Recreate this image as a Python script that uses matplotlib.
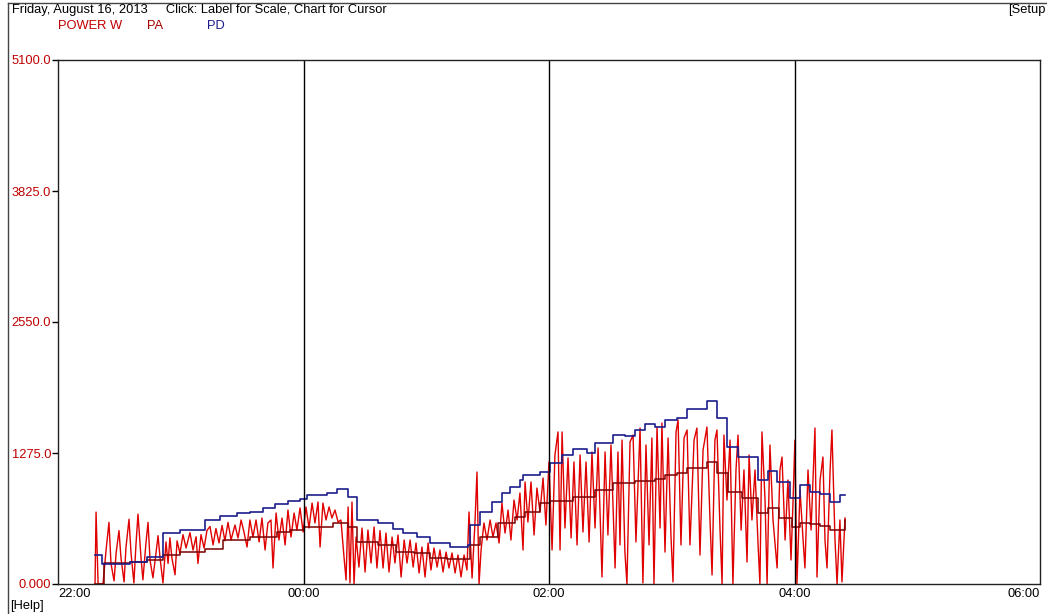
import matplotlib
matplotlib.use("Agg")
import matplotlib.pyplot as plt
from matplotlib.lines import Line2D

plt.rcParams['font.family'] = ['Liberation Sans', 'DejaVu Sans']

# minutes after 22:00, watts
pd_min = [18.1, 21.5, 35.2, 43.5, 51.3, 59.6, 71.9, 79.2, 87.5, 93.9, 100.2, 106.1, 112.4,
          118.3, 121.7, 131.5, 136.4, 141.8, 146.2, 156.4, 163.7, 168.6, 175.5, 181.8,
          191.6, 200.4, 201.4, 206.3, 212.1, 217.0, 220.9, 225.8, 227.3, 235.6, 240.5,
          246.4, 251.7, 258.6, 262.5, 271.3, 277.2, 282.0, 286.9, 291.8, 296.7, 302.6,
          307.5, 317.2, 322.1, 327.0, 332.4, 342.2, 347.1, 351.5, 357.8, 362.7, 367.6,
          372.5, 377.4, 382.2, 384.7]
pd_watts = [282, 195, 214, 263, 496, 526, 623, 662, 691, 701, 740, 779, 808,
            827, 866, 886, 925, 847, 623, 594, 535, 496, 457, 399,
            360, 380, 574, 701, 798, 886, 944, 1012, 1061, 1090, 1178,
            1256, 1314, 1275, 1372, 1450, 1440, 1499, 1557, 1528, 1596, 1616,
            1703, 1781, 1616, 1333, 1236, 1012, 1100, 993, 837, 964, 895,
            876, 798, 866, 866]

pa_min = [18.1, 22.5, 35.2, 43.5, 51.3, 59.6, 71.9, 80.7, 93.9, 107.1, 113.4, 120.2,
          134.4, 141.8, 146.2, 156.4, 165.2, 174.0, 181.8, 190.2, 200.4, 201.4, 206.3,
          215.1, 223.5, 228.3, 235.6, 240.5, 251.7, 262.5, 271.3, 282.0, 291.8, 296.7,
          302.6, 307.5, 317.2, 322.1, 327.5, 334.3, 342.2, 347.1, 352.5, 358.8, 362.7,
          367.6, 372.5, 377.4, 383.2, 384.7]
pa_watts = [0, 204, 214, 233, 282, 311, 340, 428, 457, 506, 525, 555,
            594, 555, 409, 380, 311, 302, 253, 243, 243, 380, 457,
            594, 652, 701, 788, 808, 847, 915, 983, 1003, 1022, 1061,
            1080, 1129, 1188, 1080, 895, 837, 690, 740, 642, 555, 594,
            584, 565, 526, 526, 623]

pw_min = [18.1, 18.6, 19.6, 22.0, 23.5, 24.9, 25.9, 27.4, 28.4, 29.8, 30.8, 32.3, 33.2,
          34.7, 35.7, 37.1, 38.1, 39.1, 40.6, 41.5, 43.0, 44.0, 45.0, 46.4, 47.9, 48.9,
          49.9, 51.3,
          52.8, 53.8, 54.7, 55.7, 57.2, 58.2, 59.6, 61.1, 62.6, 64.5, 66.0, 67.5, 68.4,
          69.9, 71.4, 72.8, 74.3, 75.8, 77.2, 78.7, 80.2, 81.6, 83.1, 84.6, 86.5,
          88.0, 89.5, 90.9, 92.4, 93.8, 95.3, 96.8, 98.3, 99.7, 101.2, 102.6, 104.1,
          105.1, 106.6, 108.0, 109.5, 111.0, 112.4, 113.9, 115.4, 116.8, 118.3, 119.8,
          121.2, 122.7, 124.2, 125.6, 127.1, 128.1, 129.5, 131.0, 132.5, 133.9, 135.4,
          136.9, 138.3, 139.8, 140.8, 141.8, 142.7, 143.7, 144.7, 145.7, 147.1, 148.6,
          150.1, 151.5, 153.0, 154.5, 155.9, 157.4, 158.9,
          160.3, 161.8, 163.3, 164.7, 166.2, 167.7, 169.2, 170.6, 172.1, 173.6, 175.0,
          176.5, 177.9, 179.4, 180.9, 182.3, 183.8, 185.3, 186.7, 188.2, 189.7, 191.1,
          192.6, 194.1, 195.5, 197.0, 198.5, 199.9, 200.9, 202.4, 203.8, 204.8, 205.8,
          206.8, 208.2, 209.7, 211.2, 212.6, 214.1, 215.6, 217.0, 218.5, 220.0, 221.4,
          222.9, 224.4, 225.8, 227.3, 228.3, 229.7,
          231.2, 232.7, 234.1, 235.6, 237.1, 238.5, 240.0, 241.5, 242.9, 244.4, 245.4,
          246.4, 247.8, 249.3, 250.8, 252.2, 253.7, 255.2, 256.6, 258.1, 259.6, 261.0,
          262.5, 264.0, 265.9, 267.4, 268.8, 270.3, 272.3, 273.7, 274.7, 275.7, 277.1,
          278.1, 279.6, 281.1, 282.5, 284.5, 285.9, 287.4, 288.9, 290.3, 291.3, 292.8,
          294.3, 295.2, 296.7, 298.2, 299.6, 300.6, 302.1, 303.1, 304.5, 306.0,
          307.5, 308.9, 310.9, 312.3, 313.8, 315.3, 317.2, 318.7, 319.7, 321.1, 322.1,
          323.6, 324.6, 325.5, 327.0, 328.5, 329.9, 331.4, 332.4, 333.9, 335.3, 336.8,
          337.8, 339.2, 340.7, 342.2, 343.1, 344.1, 345.6, 346.6, 348.0, 349.5, 351.5,
          352.9, 353.9, 355.4, 356.8, 358.3, 359.3, 360.2, 361.2, 362.7, 364.2, 365.1,
          366.6, 368.1, 370.0, 371.0, 372.5, 373.9, 374.9, 375.9, 377.4, 378.3, 379.8,
          380.8, 382.2, 383.2, 384.7]
pw_watts = [0, 700, 0, 0, 330, 600, 200, 30, 300, 520, 250, 20, 350,
            630, 300, 10, 380, 680, 250, 40, 400, 600, 230, 60, 300, 470,
            250, 10,
            410, 200, 450, 250, 90, 420, 300, 480, 350, 500, 330, 460, 200,
            480, 350, 520, 560, 380, 540, 400, 570, 420, 600, 430, 574,
            448, 623, 506, 360, 623, 457, 623, 409, 642, 331, 594, 623,
            156, 691, 428, 642, 380, 720, 457, 691, 526, 740, 506,
            750, 545, 788, 594, 798, 360, 788, 623, 750, 642, 720,
            603, 623, 263, 39, 750, 10, 798, 0, 457, 165, 545,
            117, 526, 204, 555, 156, 520, 156,
            496, 117, 457, 204, 477, 68, 428, 204, 428, 165, 399,
            107, 360, 68, 399, 136, 350, 165, 331, 117, 311, 156,
            302, 107, 282, 68, 282, 136, 701, 58, 594, 1090, 0,
            331, 594, 428, 623, 457, 594, 399, 788, 496, 720, 428,
            817, 623, 886, 331, 993, 603,
            993, 477, 934, 701, 1032, 574, 1188, 331, 1256, 1480, 331,
            1480, 545, 1227, 448, 1188, 380, 1256, 506, 1188, 409, 1285,
            545, 1324, 68, 1285, 477, 1353, 156, 1285, 380, 1401, 311,
            0, 1382, 1450, 409, 1518, 10, 1353, 380, 1421, 0, 1528,
            545, 1567, 311, 1421, 477, 20, 1480, 1596, 380, 1421,
            1499, 380, 1401, 1518, 282, 1304, 1528, 623, 88, 1401, 1499,
            525, 0, 1450, 817, 1401, 0, 1110, 1450, 525, 1110, 214,
            1256, 623, 1110, 380, 0, 1480, 817, 0, 1353, 623, 156,
            1110, 1236, 428, 1012, 234, 817, 1401, 0, 915, 428, 156,
            1110, 525, 1518, 68, 1012, 1236, 428, 156, 1110, 1499, 428,
            0, 623, 20, 642]

x_ticks = [0, 120, 240, 360, 480]
x_labels = ['22:00', '00:00', '02:00', '04:00', '06:00']
y_ticks = [0, 1275, 2550, 3825, 5100]
y_labels = ['0.000', '1275.0', '2550.0', '3825.0', '5100.0']
grid_min = [120, 240, 360]

FS = 9.3
W, H = 1047, 614
fig = plt.figure(figsize=(W / 100, H / 100), dpi=100)
ax = fig.add_axes([58 / W, 30 / H, 982 / W, 524 / H])

ax.plot(pw_min, pw_watts, color='#e00000', lw=1.0)
ax.step(pa_min, pa_watts, where='post', color='#7a0000', lw=1.1)
ax.step(pd_min, pd_watts, where='post', color='#1c1c8c', lw=1.2)
for g in grid_min:
    ax.axvline(g, color='black', lw=1)

ax.set_xlim(0, 480)
ax.set_ylim(0, 5100)
ax.set_yticks(y_ticks)
ax.set_yticklabels(y_labels, color='#c00000', fontsize=FS)
ax.tick_params(axis='y', length=4, width=1, pad=1)
ax.set_xticks(x_ticks)
ax.set_xticklabels(x_labels, fontsize=FS)
ax.tick_params(axis='x', length=0, pad=3)
xl = ax.get_xticklabels()
xl[0].set_ha('left')
xl[-1].set_ha('right')
for s in ax.spines.values():
    s.set_linewidth(1)
    s.set_color('#222222')

# header and footer texts
fig.text(12 / W, 1 - 10 / H, 'Friday, August 16, 2013     Click: Label for Scale, Chart for Cursor',
         fontsize=FS, va='center')
fig.text(1008 / W, 1 - 10 / H, '[Setup', fontsize=FS, va='center')
fig.text(58 / W, 1 - 26 / H, 'POWER W', fontsize=FS, va='center', color='#c00000')
fig.text(147 / W, 1 - 26 / H, 'PA', fontsize=FS, va='center', color='#a00000')
fig.text(207 / W, 1 - 26 / H, 'PD', fontsize=FS, va='center', color='#1c1c8c')
fig.text(10 / W, 1 - 606 / H, '[Help]', fontsize=FS, va='center')

# outer frame
fig.add_artist(Line2D([8 / W, 1], [1 - 3 / H, 1 - 3 / H], color='#444444', lw=1))
fig.add_artist(Line2D([8 / W, 8 / W], [0, 1 - 3 / H], color='#444444', lw=1))

fig.savefig('out.png', dpi=100)
